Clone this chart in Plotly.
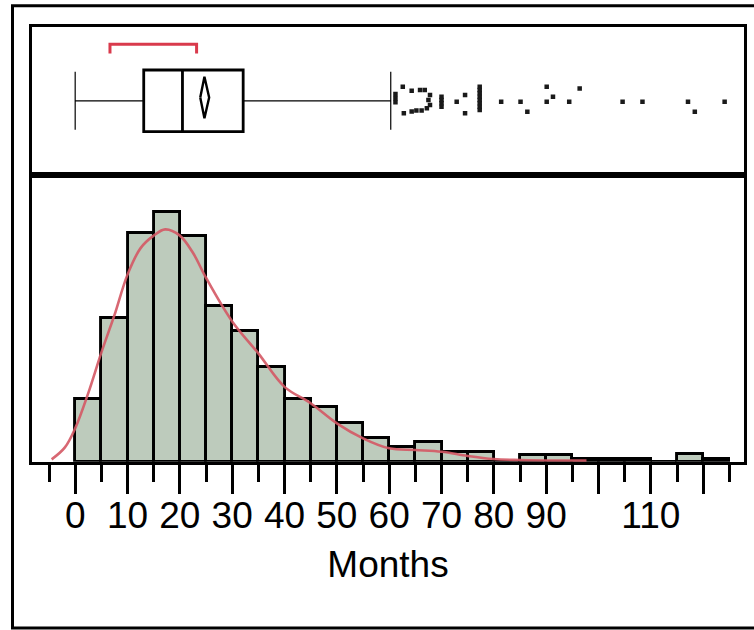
import plotly.graph_objects as go

# ---------------- data ----------------
# Histogram (percent of observations), bins 5 months wide
bin_starts = [0, 5, 10, 15, 20, 25, 30, 35, 40, 45, 50, 55, 60, 65, 70, 75, 80,
              85, 90, 95, 100, 105, 110, 115, 120]
bin_pct = [4.0, 9.2, 14.7, 16.0, 14.5, 10.0, 8.4, 6.1, 4.0, 3.5, 2.5, 1.5, 0.95,
           1.25, 0.65, 0.65, 0.0, 0.43, 0.43, 0.17, 0.17, 0.17, 0.0, 0.47, 0.17]
bin_width = 5

# Smooth density curve (same percent scale)
kde_x = [-4.5, -2, 0, 2.5, 5, 7.5, 10, 12.5, 15, 17.2, 20, 22.5, 25, 30, 35, 40, 45,
         50, 55, 60, 65, 70, 75, 80, 85, 90, 97.7]
kde_y = [0.15, 0.9, 2.14, 4.4, 7.0, 9.4, 12.0, 13.7, 14.5, 14.9, 14.5, 13.4, 11.8,
         9.0, 6.95, 4.8, 3.75, 2.46, 1.5, 0.86, 0.75, 0.64, 0.37, 0.17, 0.11, 0.08, 0.07]

# Outlier box plot summary
box_min = 0.0
box_q1 = 13.1
box_median = 20.5
box_q3 = 32.1
box_upper_fence = 60.3
mean_val = 24.7
mean_ci = [23.9, 25.6]
shortest_half = [6.65, 23.2]

# Outliers (months) and their jitter offsets
outlier_x = [61.2, 61.2, 61.2, 62.6, 62.8, 64.3, 65.9, 66.8, 67.8, 67.5, 67.8, 67.2,
             66.2, 65.2, 64.3, 70.0, 70.0, 70.0, 70.0, 72.9, 74.5, 74.5,
             77.3, 77.3, 77.3, 77.3, 77.3, 77.3, 77.3, 77.3, 81.4, 85.1, 86.4,
             90.1, 90.1, 91.3, 94.4, 96.4, 104.6, 108.4, 117.1, 118.4, 124.1]
outlier_y = [0.546, 0.517, 0.490, 0.595, 0.416, 0.568, 0.573, 0.573, 0.539, 0.506,
             0.472, 0.450, 0.435, 0.435, 0.428, 0.528, 0.506, 0.483, 0.461, 0.494,
             0.539, 0.416, 0.595, 0.573, 0.551, 0.528, 0.506, 0.483, 0.461, 0.438,
             0.494, 0.494, 0.427, 0.595, 0.494, 0.528, 0.494, 0.584, 0.494, 0.494,
             0.494, 0.427, 0.494]

major_ticks = [0, 10, 20, 30, 40, 50, 60, 70, 80, 90, 100, 110, 120]
major_labels = ["0", "10", "20", "30", "40", "50", "60", "70", "80", "90", "", "110", ""]
minor_ticks = [-5, 5, 15, 25, 35, 45, 55, 65, 75, 85, 95, 105, 115, 125]
x_title = "Months"

# ---------------- figure ----------------
W, H = 754, 630
FONT = "Liberation Sans, Arial, sans-serif"
xr = [-8.25, 127.8]
xdom = [32 / W, 744 / W]
ylow_dom = [(H - 461.7) / H, (H - 175) / H]
yup_dom = [(H - 175) / H, (H - 26.7) / H]

fig = go.Figure()

# histogram bars
fig.add_trace(go.Bar(
    x=bin_starts, y=bin_pct, width=[bin_width] * len(bin_starts), offset=0,
    marker=dict(color="#BDCBBC", line=dict(color="black", width=2.9)),
    xaxis="x", yaxis="y", showlegend=False, hoverinfo="skip"))

# density curve
fig.add_trace(go.Scatter(
    x=kde_x, y=kde_y, mode="lines",
    line=dict(color="rgba(212,88,100,0.9)", width=2.6, shape="spline", smoothing=1.0),
    xaxis="x", yaxis="y", showlegend=False, hoverinfo="skip"))

# box plot: thin whiskers
fig.add_trace(go.Box(
    y=[0.5], q1=[box_q1], median=[box_median], q3=[box_q3],
    lowerfence=[box_min], upperfence=[box_upper_fence], orientation="h",
    width=0.416, whiskerwidth=0.94, boxpoints=False,
    line=dict(color="black", width=1.2), fillcolor="white",
    xaxis="x2", yaxis="y2", showlegend=False, hoverinfo="skip"))
# box plot: thick box
fig.add_trace(go.Box(
    y=[0.5], q1=[box_q1], median=[box_median], q3=[box_q3],
    lowerfence=[box_q1], upperfence=[box_q3], orientation="h",
    width=0.416, whiskerwidth=0.0, boxpoints=False,
    line=dict(color="black", width=2.8), fillcolor="rgba(255,255,255,0)",
    xaxis="x2", yaxis="y2", showlegend=False, hoverinfo="skip"))

# means diamond (horizontal extent = CI of the mean)
dy = 0.14
yc = 0.523
fig.add_trace(go.Scatter(
    x=[mean_ci[0], mean_val, mean_ci[1], mean_val, mean_ci[0]],
    y=[yc, yc + dy, yc, yc - dy, yc],
    mode="lines", line=dict(color="black", width=2.4),
    xaxis="x2", yaxis="y2", showlegend=False, hoverinfo="skip"))

# shortest half bracket
fig.add_trace(go.Scatter(
    x=[shortest_half[0], shortest_half[0], shortest_half[1], shortest_half[1]],
    y=[0.82, 0.881, 0.881, 0.82],
    mode="lines", line=dict(color="#D93A4C", width=3),
    xaxis="x2", yaxis="y2", showlegend=False, hoverinfo="skip"))

# outliers
fig.add_trace(go.Scatter(
    x=outlier_x, y=outlier_y, mode="markers",
    marker=dict(symbol="square", size=4.5, color="#1a1a1a", line=dict(width=0)),
    xaxis="x2", yaxis="y2", showlegend=False, hoverinfo="skip"))

axis_line = dict(showline=True, linecolor="black", linewidth=3, mirror=True,
                 showgrid=False, zeroline=False)

fig.update_layout(
    width=W, height=H,
    margin=dict(l=0, r=0, t=0, b=0),
    paper_bgcolor="white", plot_bgcolor="white",
    font=dict(family=FONT, color="black"),
    bargap=0,
    hovermode=False,
    xaxis=dict(domain=xdom, range=xr, anchor="y", **axis_line,
               tickmode="array", tickvals=major_ticks, ticktext=major_labels,
               ticks="outside", ticklen=29, tickwidth=3, tickcolor="black",
               ticklabelstandoff=-10,
               tickfont=dict(size=37, family=FONT, color="black"),
               minor=dict(tickmode="array", tickvals=minor_ticks, ticks="outside",
                          ticklen=17, tickwidth=3, tickcolor="black", showgrid=False),
               title=dict(text=x_title, font=dict(size=37, family=FONT, color="black"),
                          standoff=17)),
    yaxis=dict(domain=ylow_dom, range=[0, 18.39], anchor="x", **axis_line,
               showticklabels=False, ticks=""),
    xaxis2=dict(domain=xdom, range=xr, anchor="y2", **axis_line,
                showticklabels=False, ticks=""),
    yaxis2=dict(domain=yup_dom, range=[0, 1], anchor="x2", **axis_line,
                showticklabels=False, ticks=""),
    shapes=[dict(type="rect", xref="paper", yref="paper",
                 x0=12.5 / W, x1=1.05, y0=(H - 628) / H, y1=(H - 5.7) / H,
                 line=dict(color="black", width=3), fillcolor="rgba(0,0,0,0)",
                 layer="below")],
)

fig.write_html("out.html", config={"displayModeBar": False},
               post_script="document.body.style.margin='0';document.body.style.padding='0';")
